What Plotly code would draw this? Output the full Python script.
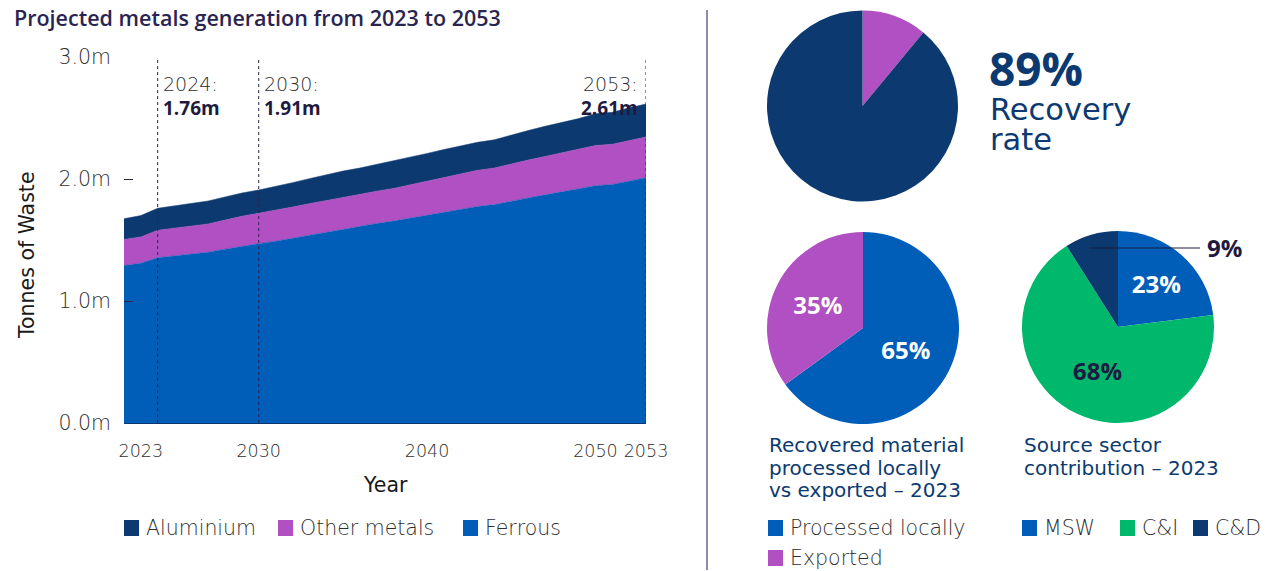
import plotly.graph_objects as go

# ---------------- data ----------------
years = list(range(2022, 2054))
ferrous = [1.29, 1.31, 1.355, 1.37, 1.385, 1.40, 1.425, 1.45, 1.47, 1.49, 1.515, 1.54,
           1.565, 1.59, 1.61, 1.635, 1.655, 1.68, 1.705, 1.73, 1.755, 1.775, 1.79, 1.82,
           1.845, 1.87, 1.895, 1.915, 1.945, 1.955, 1.985, 2.01]
other_metals = [0.215, 0.215, 0.225, 0.228, 0.23, 0.232, 0.238, 0.245, 0.25, 0.252, 0.255,
                0.258, 0.26, 0.262, 0.264, 0.265, 0.268, 0.272, 0.278, 0.284, 0.29, 0.296,
                0.30, 0.305, 0.31, 0.315, 0.32, 0.325, 0.33, 0.33, 0.332, 0.335]
aluminium = [0.17, 0.175, 0.18, 0.183, 0.186, 0.188, 0.19, 0.19, 0.19, 0.195, 0.20, 0.205,
             0.21, 0.213, 0.216, 0.22, 0.222, 0.225, 0.227, 0.228, 0.229, 0.23, 0.232,
             0.237, 0.242, 0.247, 0.25, 0.255, 0.26, 0.262, 0.266, 0.27]
x_tick_vals = [2023, 2030, 2040, 2050, 2053]
y_tick_vals = [0, 1, 2, 3]
y_tick_text = ["0.0m", "1.0m", "2.0m", "3.0m"]
marker_years = [2024, 2030, 2053]
marker_labels = ["2024:", "2030:", "2053:"]
marker_values = ["1.76m", "1.91m", "2.61m"]

recovery_labels = ["Not recovered", "Recovered"]
recovery_values = [11, 89]
dest_labels = ["Processed locally", "Exported"]
dest_values = [65, 35]
sector_labels = ["MSW", "C&I", "C&D"]
sector_values = [23, 68, 9]

# ---------------- style ----------------
NAVY = "#0C3A70"
BLUE = "#005EB8"
PURPLE = "#B150C2"
GREEN = "#00B86B"
INK = "#2A2550"
DARK = "#1E1A40"
GREY = "#2E2E2E"
SANS = "DejaVu Sans"
BOLD = "Open Sans"
W, H = 1271, 571


def px_x(x):
    return x / W


def px_y(y):
    return 1 - y / H


fig = go.Figure()

for name, vals, col in [("Ferrous", ferrous, BLUE), ("Other metals", other_metals, PURPLE),
                        ("Aluminium", aluminium, NAVY)]:
    fig.add_trace(go.Scatter(x=years, y=vals, name=name, stackgroup="one", mode="lines",
                             line=dict(width=0.5, color=col), fillcolor=col,
                             showlegend=False, xaxis="x", yaxis="y"))

# pies
fig.add_trace(go.Pie(labels=recovery_labels, values=recovery_values, sort=False,
                     direction="clockwise", rotation=0,
                     marker=dict(colors=[PURPLE, NAVY], line=dict(width=0)),
                     textinfo="none", showlegend=False,
                     domain=dict(x=[px_x(767), px_x(958)], y=[px_y(202), px_y(10)])))
fig.add_trace(go.Pie(labels=dest_labels, values=dest_values, sort=False,
                     direction="clockwise", rotation=0,
                     marker=dict(colors=[BLUE, PURPLE], line=dict(width=0)),
                     texttemplate="%{value}%", textposition="inside",
                     insidetextorientation="horizontal",
                     textfont=dict(family=BOLD, size=24, color="white", weight=700),
                     showlegend=False,
                     domain=dict(x=[px_x(767), px_x(959)], y=[px_y(424), px_y(232)])))
fig.add_trace(go.Pie(labels=sector_labels, values=sector_values, sort=False,
                     direction="clockwise", rotation=0,
                     marker=dict(colors=[BLUE, GREEN, NAVY], line=dict(width=0)),
                     text=["23%", "68%", ""], texttemplate="%{text}", textposition="inside",
                     insidetextorientation="horizontal",
                     textfont=dict(family=BOLD, size=24, color=["white", DARK, "white"],
                                   weight=700),
                     showlegend=False,
                     domain=dict(x=[px_x(1022), px_x(1214)], y=[px_y(423), px_y(231)])))

shapes = []
annotations = []

# dashed marker lines + labels
for yr, lab, val in zip(marker_years, marker_labels, marker_values):
    shapes.append(dict(type="line", xref="x", yref="y", x0=yr, x1=yr, y0=0, y1=2.99,
                       line=dict(color=INK, width=1, dash="3px,3px")))
    right = yr == 2053
    annotations.append(dict(xref="x", yref="paper", x=yr, y=px_y(71), text=lab,
                            showarrow=False, xanchor="right" if right else "left",
                            xshift=-6 if right else 3,
                            font=dict(family=SANS, size=19, color=GREY, weight=200)))
    annotations.append(dict(xref="x", yref="paper", x=yr, y=px_y(93), text=val,
                            showarrow=False, xanchor="right" if right else "left",
                            xshift=-6 if right else 3,
                            font=dict(family=BOLD, size=19, color=DARK, weight=700)))

# title & axis titles
annotations.append(dict(xref="paper", yref="paper", x=px_x(12), y=px_y(18),
                        text="Projected metals generation from 2023 to 2053",
                        showarrow=False, xanchor="left", yanchor="middle",
                        font=dict(family=BOLD, size=21.5, color=INK, weight=600)))
annotations.append(dict(xref="paper", yref="paper", x=px_x(27), y=px_y(255), text="Tonnes of Waste",
                        showarrow=False, textangle=-90, xanchor="center", yanchor="middle",
                        font=dict(family=SANS, size=20.5, color="#1a1a1a", weight=400)))
annotations.append(dict(xref="paper", yref="paper", x=px_x(385), y=px_y(485), text="Year",
                        showarrow=False, xanchor="center", yanchor="middle",
                        font=dict(family=SANS, size=20.5, color="#1a1a1a", weight=400)))

# separator
shapes.append(dict(type="line", xref="paper", yref="paper", x0=px_x(707), x1=px_x(707),
                   y0=px_y(570), y1=px_y(10), line=dict(color="#6B6490", width=1.5)))

# recovery text
annotations.append(dict(xref="paper", yref="paper", x=px_x(987), y=px_y(68), text="89%",
                        showarrow=False, xanchor="left", yanchor="middle",
                        font=dict(family=BOLD, size=46, color=NAVY, weight=700)))
for txt, yy in [("Recovery", 109), ("rate", 140)]:
    annotations.append(dict(xref="paper", yref="paper", x=px_x(988), y=px_y(yy), text=txt,
                            showarrow=False, xanchor="left", yanchor="middle",
                            font=dict(family=SANS, size=30.5, color=NAVY, weight=400)))

# 9% leader label
shapes.append(dict(type="line", xref="paper", yref="paper", x0=px_x(1090), x1=px_x(1200),
                   y0=px_y(248), y1=px_y(248), line=dict(color=DARK, width=1)))
annotations.append(dict(xref="paper", yref="paper", x=px_x(1205), y=px_y(248), text="9%",
                        showarrow=False, xanchor="left", yanchor="middle",
                        font=dict(family=BOLD, size=24, color=DARK, weight=700)))

# pie titles (one annotation per line)
for x0, lines in [(767, ["Recovered material", "processed locally", "vs exported – 2023"]),
                  (1022, ["Source sector", "contribution – 2023"])]:
    for i, txt in enumerate(lines):
        annotations.append(dict(xref="paper", yref="paper", x=px_x(x0), y=px_y(445 + 22.5 * i),
                                text=txt, showarrow=False, xanchor="left", yanchor="middle",
                                font=dict(family=SANS, size=20, color=NAVY, weight=400)))

# custom legends (square + label)
legend_items = [
    (124, 528, NAVY, "Aluminium"), (278, 528, PURPLE, "Other metals"), (463, 528, BLUE, "Ferrous"),
    (768, 528, BLUE, "Processed locally"), (768, 558, PURPLE, "Exported"),
    (1022, 528, BLUE, "MSW"), (1120, 528, GREEN, "C&I"), (1193, 528, NAVY, "C&D"),
]
for lx, ly, col, lab in legend_items:
    shapes.append(dict(type="rect", xref="paper", yref="paper", x0=px_x(lx), x1=px_x(lx + 15),
                       y0=px_y(ly + 8), y1=px_y(ly - 8), fillcolor=col, line=dict(width=0)))
    annotations.append(dict(xref="paper", yref="paper", x=px_x(lx + 20), y=px_y(ly), text=lab,
                            showarrow=False, xanchor="left", yanchor="middle",
                            font=dict(family=SANS, size=20.5, color=GREY, weight=200)))

fig.update_layout(
    width=W, height=H, margin=dict(l=0, r=0, t=0, b=0, pad=0, autoexpand=False),
    paper_bgcolor="white", plot_bgcolor="white",
    font=dict(family=SANS, color=GREY),
    xaxis=dict(domain=[px_x(124), px_x(646)], range=[2022, 2053], tickvals=x_tick_vals,
               automargin=False,
               showgrid=False, zeroline=False, showline=True, linecolor=NAVY, linewidth=1,
               ticks="", ticklabelstandoff=12,
               tickfont=dict(family=SANS, size=17.5, color=GREY, weight=200)),
    yaxis=dict(domain=[px_y(423), px_y(57)], range=[0, 3.0], tickvals=y_tick_vals,
               automargin=False,
               ticktext=y_tick_text, showgrid=False, zeroline=False, showline=False,
               ticks="inside", ticklen=9, tickcolor=INK, tickwidth=1, ticklabelstandoff=12,
               tickfont=dict(family=SANS, size=20.5, color=GREY, weight=200)),
    shapes=shapes, annotations=annotations,
)

fig.write_html("out.html", config={"displayModeBar": False},
               post_script="document.body.style.margin='0';document.body.style.overflow='hidden';")
